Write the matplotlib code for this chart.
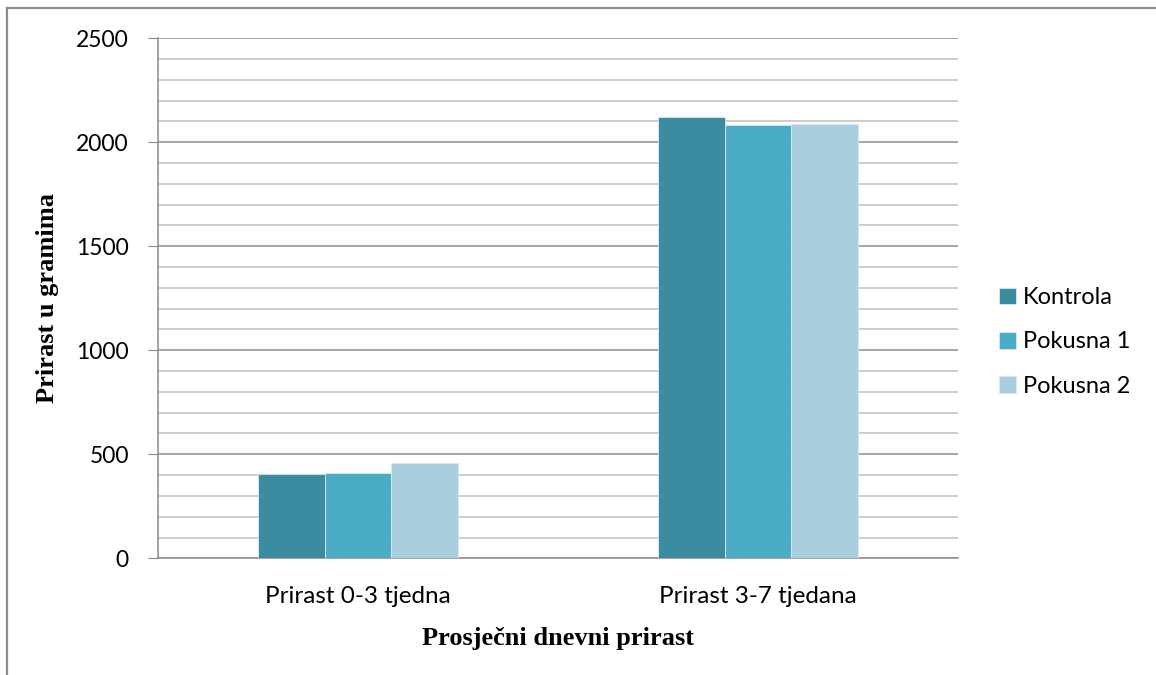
import numpy as np
import matplotlib.pyplot as plt
from matplotlib.lines import Line2D
from matplotlib.ticker import MultipleLocator

categories = ['Prirast 0-3 tjedna', 'Prirast 3-7 tjedana']
series_names = ['Kontrola', 'Pokusna 1', 'Pokusna 2']
kontrola = [404, 2123]
pokusna1 = [411, 2082]
pokusna2 = [458, 2088]
colors = ['#3b8ba1', '#4bacc6', '#a9cedd']

fig = plt.figure(figsize=(11.56, 6.75), dpi=100)
ax = fig.add_axes([158/1156, 1-558.3/675, 800/1156, (558.3-38.3)/675])

x = np.arange(len(categories))
w = 1/6
for i, vals in enumerate([kontrola, pokusna1, pokusna2]):
    ax.bar(x + (i-1)*w, vals, width=w, color=colors[i], edgecolor='#d8eaf0',
           linewidth=0.6, label=series_names[i], zorder=3)

ax.set_xlim(-0.5, 1.5)
ax.set_ylim(0, 2500)
ax.yaxis.set_major_locator(MultipleLocator(500))
ax.yaxis.set_minor_locator(MultipleLocator(100))
ax.grid(which='major', axis='y', color='#8c8c8c', linewidth=1.1, zorder=1)
ax.grid(which='minor', axis='y', color='#c0c0c0', linewidth=1.1, zorder=1)
ax.tick_params(axis='y', which='major', length=7, color='#8c8c8c', labelsize=16.5, pad=14)
ax.tick_params(axis='y', which='minor', length=0)
ax.tick_params(axis='x', length=0, labelsize=17.5, pad=20)
ax.set_xticks(x)
ax.set_xticklabels(categories)
for lab in ax.get_xticklabels() + ax.get_yticklabels():
    lab.set_family('Lato')

for s in ['top', 'right']:
    ax.spines[s].set_visible(False)
ax.spines['left'].set_color('#8c8c8c')
ax.spines['bottom'].set_color('#8c8c8c')
ax.spines['left'].set_linewidth(1.1)
ax.spines['bottom'].set_linewidth(1.1)

ax.set_xlabel('Prosječni dnevni prirast', family='Liberation Serif',
              fontweight='bold', fontsize=19, labelpad=14)
ax.set_ylabel('Prirast u gramima', family='Liberation Serif',
              fontweight='bold', fontsize=19, labelpad=12)

leg = fig.legend(loc='center left', bbox_to_anchor=(978/1156, 1-342/675),
                 frameon=False, prop={'family': 'Lato', 'size': 17},
                 handlelength=0.7, handleheight=0.7, handletextpad=0.3,
                 labelspacing=0.98)

fig.add_artist(Line2D([7/1156, 7/1156], [0, 1-8/675], color='#8c8c8c', linewidth=1.6))
fig.add_artist(Line2D([7/1156, 1], [1-8/675, 1-8/675], color='#8c8c8c', linewidth=1.6))

fig.savefig('out.png', dpi=100)
